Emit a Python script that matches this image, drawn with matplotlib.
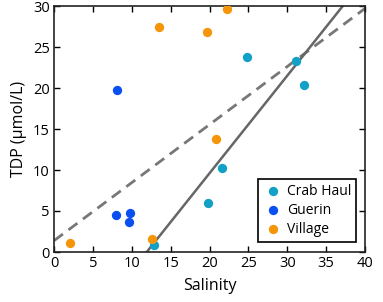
import matplotlib
matplotlib.use("Agg")
import matplotlib.pyplot as plt
import numpy as np

plt.rcParams['font.family'] = ['Open Sans', 'DejaVu Sans']

# Data
crab_sal = [24.8, 31.1, 32.2, 21.6, 19.8, 12.8]
crab_tdp = [23.8, 23.3, 20.4, 10.2, 6.0, 0.85]
guerin_sal = [8.1, 8.0, 9.8, 9.6]
guerin_tdp = [19.7, 4.55, 4.7, 3.6]
village_sal = [13.5, 22.3, 19.7, 20.9, 2.1, 12.6]
village_tdp = [27.4, 29.6, 26.8, 13.8, 1.05, 1.6]

# regression lines (slope, intercept)
solid_fit = (1.19, -14.2)
dashed_fit = (0.708, 1.38)

fig = plt.figure(figsize=(3.83, 3.02), dpi=100)
ax = fig.add_axes([54 / 383, 1 - 252 / 302, (365 - 54) / 383, (252 - 6) / 302])

xs = np.array([0, 40])
ax.plot(xs, dashed_fit[0] * xs + dashed_fit[1], color='#777777', lw=2, ls=(0, (4, 2.5)), zorder=1)
xs2 = np.array([11.9, 40])
ax.plot(xs2, solid_fit[0] * xs2 + solid_fit[1], color='#666666', lw=1.8, zorder=1)

ax.scatter(crab_sal, crab_tdp, s=45, color='#12a0c6', label='Crab Haul', zorder=3, linewidths=0)
ax.scatter(guerin_sal, guerin_tdp, s=45, color='#0a50f0', label='Guerin', zorder=3, linewidths=0)
ax.scatter(village_sal, village_tdp, s=45, color='#f5960a', label='Village', zorder=3, linewidths=0)

ax.set_xlim(0, 40)
ax.set_ylim(0, 30)
ax.set_xticks(range(0, 41, 5))
ax.set_yticks(range(0, 31, 5))
ax.tick_params(direction='in', top=True, right=True, length=4, width=1, labelsize=10.5, pad=3)
for sp in ax.spines.values():
    sp.set_linewidth(1.2)
    sp.set_color('#222222')

ax.set_xlabel('Salinity', fontsize=11.5, labelpad=5)
ax.set_ylabel('TDP (µmol/L)', fontsize=11.5, labelpad=4)

leg = ax.legend(loc='lower right', fontsize=10, fancybox=False, edgecolor='black',
                framealpha=1, handletextpad=0.3, borderpad=0.35, labelspacing=0.3,
                bbox_to_anchor=(0.971, 0.041), borderaxespad=0, handlelength=1.4)
leg.get_frame().set_linewidth(1.2)

fig.savefig('out.png', dpi=100)
